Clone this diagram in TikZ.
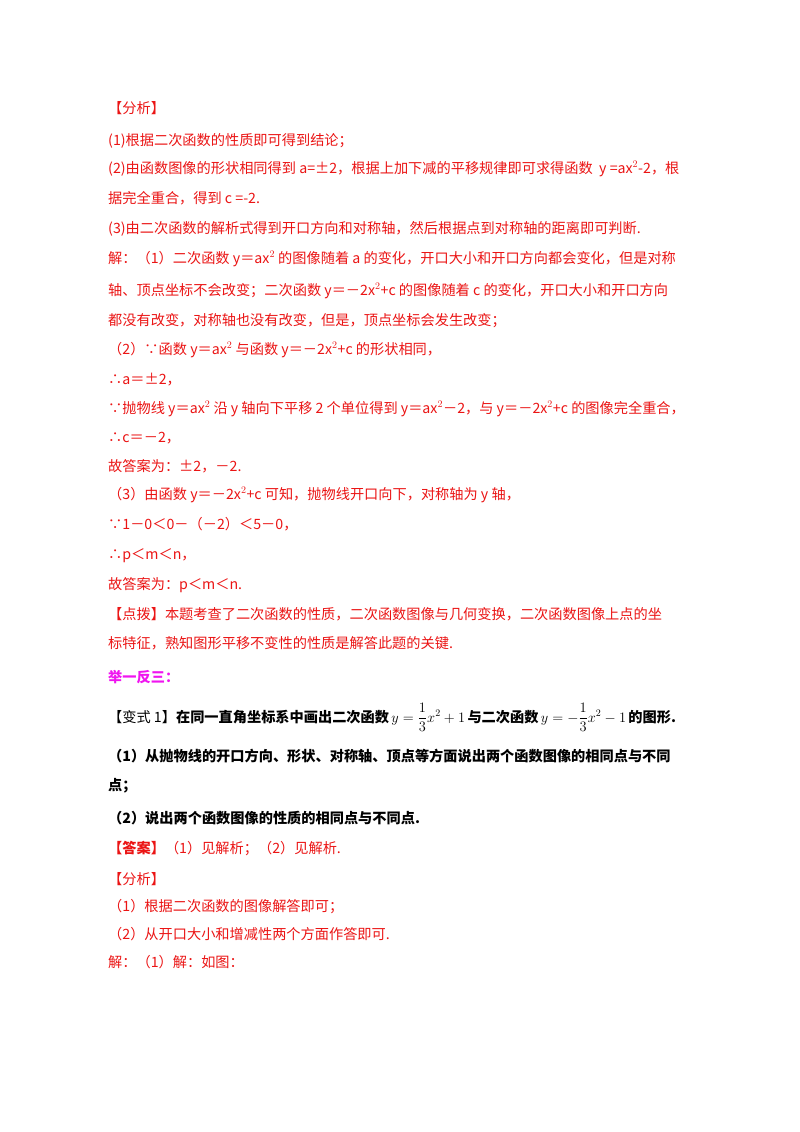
\documentclass[tikz,border=0pt]{standalone}
\usepackage{fontspec}
\setmainfont{Noto Sans CJK SC}
\definecolor{rd}{RGB}{235,20,20}
\definecolor{mg}{RGB}{240,20,240}
\begin{document}
\begin{tikzpicture}[x=1pt,y=1pt,
  ln/.style={anchor=base west,inner sep=0pt,font=\fontsize{14.2}{16}\selectfont,text=rd},
  bk/.style={ln,text=black}]
\useasboundingbox (0,0) rectangle (800,-1132);
\fill[white] (0,0) rectangle (800,-1132);
\node[ln] (l1) at (108,-113) {【分析】};
\node[ln] (l2) at (108,-145) {(1)根据二次函数的性质即可得到结论；};
\node[ln] (l3) at (108,-173) {(2)由函数图像的形状相同得到 a=±2，根据上加下减的平移规律即可求得函数\ \ y =ax$^2$-2，根};
\node[ln] (l4) at (108,-203) {据完全重合，得到 c =-2.};
\node[ln] (l5) at (108,-233) {(3)由二次函数的解析式得到开口方向和对称轴，然后根据点到对称轴的距离即可判断.};
\node[ln] (l6) at (108,-263) {解：（1）二次函数 y＝ax$^2$ 的图像随着 a 的变化，开口大小和开口方向都会变化，但是对称};
\node[ln] (l7) at (108,-295) {轴、顶点坐标不会改变；二次函数 y＝－2x$^2$+c 的图像随着 c 的变化，开口大小和开口方向};
\node[ln] (l8) at (108,-325) {都没有改变，对称轴也没有改变，但是，顶点坐标会发生改变；};
\node[ln] (l9) at (108,-354) {（2）∵函数 y＝ax$^2$ 与函数 y＝－2x$^2$+c 的形状相同，};
\node[ln] (l10) at (108,-384) {∴a＝±2，};
\node[ln] (l11) at (108,-413) {∵抛物线 y＝ax$^2$ 沿 y 轴向下平移 2 个单位得到 y＝ax$^2$－2，与 y＝－2x$^2$+c 的图像完全重合，};
\node[ln] (l12) at (108,-442) {∴c＝－2，};
\node[ln] (l13) at (108,-471) {故答案为：±2，－2.};
\node[ln] (l14) at (108,-499) {（3）由函数 y＝－2x$^2$+c 可知，抛物线开口向下，对称轴为 y 轴，};
\node[ln] (l15) at (108,-529) {∵1－0＜0－（－2）＜5－0，};
\node[ln] (l16) at (108,-559) {∴p＜m＜n，};
\node[ln] (l17) at (108,-589) {故答案为：p＜m＜n.};
\node[ln] (l18) at (108,-619) {【点拨】本题考查了二次函数的性质，二次函数图像与几何变换，二次函数图像上点的坐};
\node[ln] (l19) at (108,-648) {标特征，熟知图形平移不变性的性质是解答此题的关键.};
\node[ln,text=mg,font=\fontsize{14.2}{16}\selectfont\bfseries] (l20) at (108,-682) {举一反三：};
\node[bk] (l21) at (108,-722) {【变式 1】\textbf{在同一直角坐标系中画出二次函数}\,$\displaystyle y=\frac{1}{3}x^2+1$\,\textbf{与二次函数}\,$\displaystyle y=-\frac{1}{3}x^2-1$\,\textbf{的图形.}};
\node[bk,font=\fontsize{14.2}{16}\selectfont\bfseries] (l22) at (108,-761) {（1）从抛物线的开口方向、形状、对称轴、顶点等方面说出两个函数图像的相同点与不同};
\node[bk,font=\fontsize{14.2}{16}\selectfont\bfseries] (l23) at (108,-790) {点；};
\node[bk,font=\fontsize{14.2}{16}\selectfont\bfseries] (l24) at (108,-823) {（2）说出两个函数图像的性质的相同点与不同点.};
\node[ln] (l25) at (108,-853) {\textbf{【答案】}（1）见解析；（2）见解析.};
\node[ln] (l26) at (108,-884) {【分析】};
\node[ln] (l27) at (108,-911) {（1）根据二次函数的图像解答即可；};
\node[ln] (l28) at (108,-939) {（2）从开口大小和增减性两个方面作答即可.};
\node[ln] (l29) at (108,-967) {解：（1）解：如图：};
\end{tikzpicture}
\end{document}
